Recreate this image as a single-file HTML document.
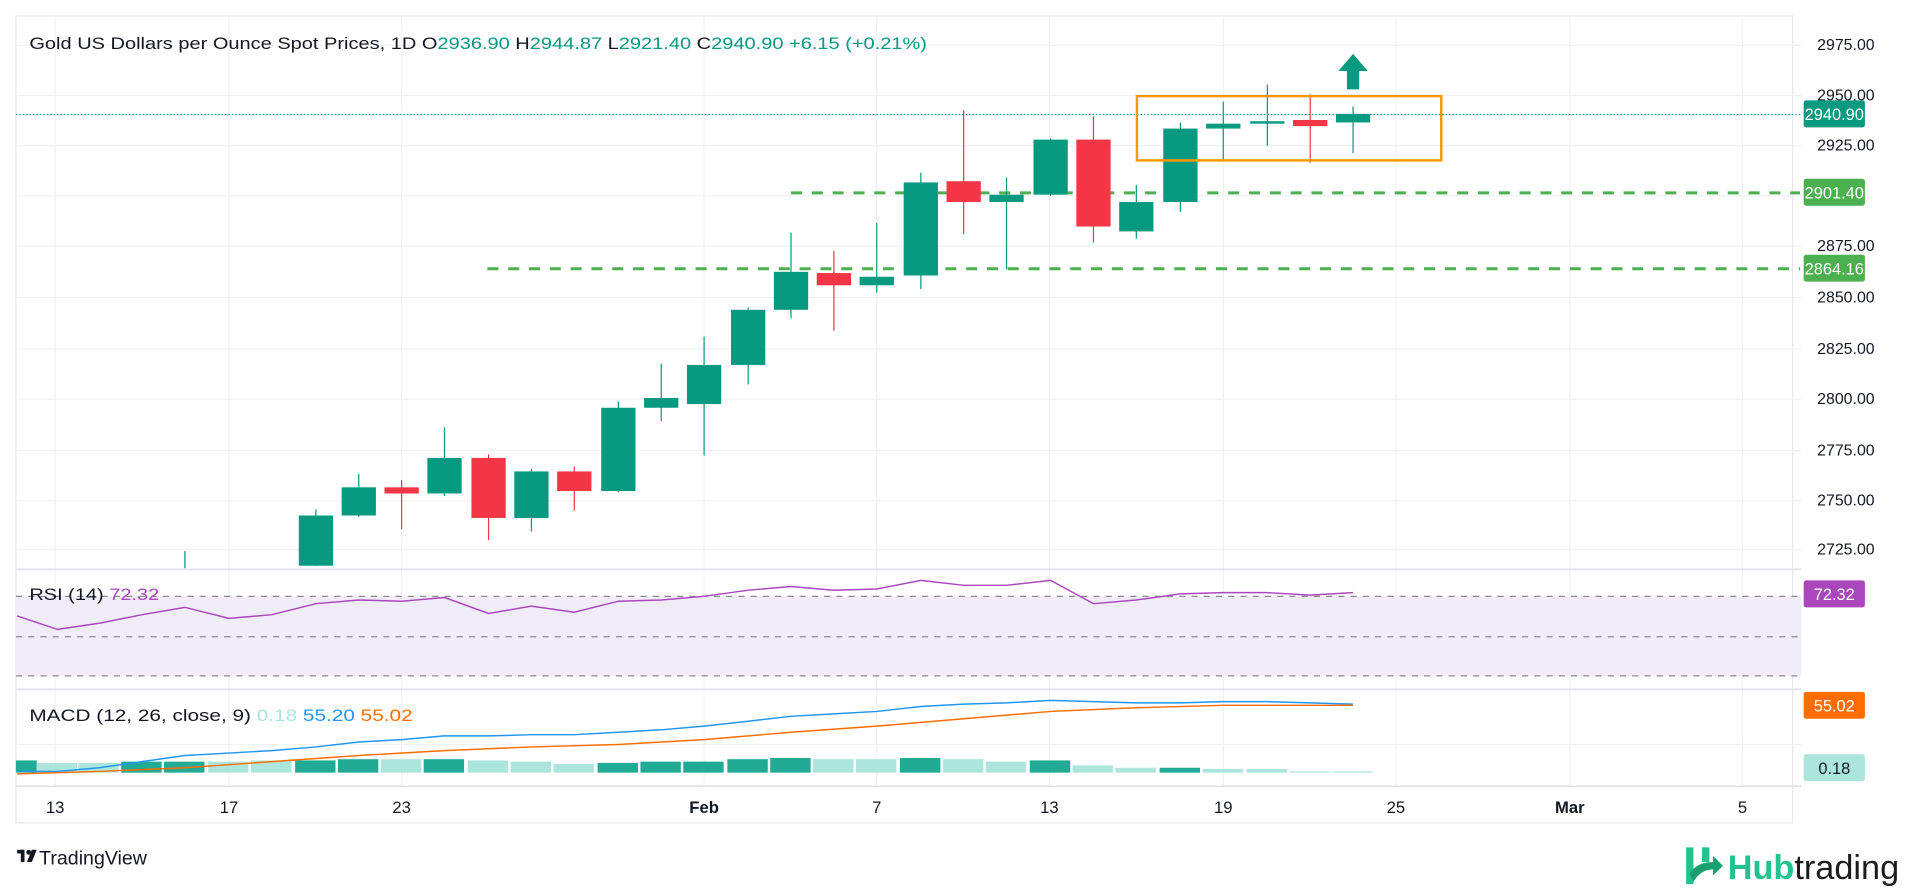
<!DOCTYPE html>
<html><head><meta charset="utf-8"><style>
html,body{margin:0;padding:0;background:#fff;width:1920px;height:888px;overflow:hidden}
svg{display:block}
text{font-family:"Liberation Sans",sans-serif}
</style></head><body>
<svg id="s" width="1920" height="888" viewBox="0 0 1568 725.2" xmlns="http://www.w3.org/2000/svg" xml:space="preserve">
<rect x="0" y="0" width="1568" height="725.2" fill="#fff"/>
<rect x="13" y="13" width="1451" height="659" fill="none" stroke="#e6e7eb" stroke-width="1"/>
<g id="grid" stroke="#f0f1f4" stroke-width="1"></g>
<rect x="13" y="487" width="1458" height="65" fill="#f0ecf8"/>
<g stroke="#8a8a8e" stroke-width="1" stroke-dasharray="5,5">
<line x1="13" y1="487" x2="1471" y2="487"/><line x1="13" y1="520" x2="1471" y2="520"/><line x1="13" y1="552" x2="1471" y2="552"/>
</g>
<g stroke="#e0e2e7" stroke-width="1.5">
<line x1="13" y1="465" x2="1471" y2="465"/><line x1="13" y1="563" x2="1471" y2="563"/><line x1="13" y1="642" x2="1471" y2="642"/>
</g>
<line x1="13" y1="93.5" x2="1471" y2="93.5" stroke="#089981" stroke-width="1" stroke-dasharray="1.2,1.6"/>
<g stroke="#4caf50" stroke-width="2.5" stroke-dasharray="9,8">
<line x1="646" y1="157.5" x2="1470" y2="157.5"/><line x1="398" y1="219.5" x2="1470" y2="219.5"/>
</g>
<g id="cd"></g>
<rect x="928.5" y="78.5" width="248.5" height="52.5" fill="none" stroke="#ff9800" stroke-width="2"/>
<polygon points="1105,44 1117,58 1110,58 1110,73 1100,73 1100,58 1093,58" fill="#089981"/>
<g id="hist"></g>
<polyline fill="none" stroke="#ab47bc" stroke-width="1.2" points="14,503 47,514 81,509 116,502 151,496 187,505 222,502 258,493 293,490 328,491 363,488 399,501 434,495 469,500 505,491 540,490 575,487 611,482 646,479 681,482 716,481 752,474 787,478 822,478 858,474 893,493 928,490 964,485 999,484 1035,484 1070,486 1105,484"/>
<polyline fill="none" stroke="#2196f3" stroke-width="1.2" points="14,630 47,630 81,627 116,622 151,617 187,615 222,613 258,610 293,606 328,604 363,601 399,601 434,600 469,600 505,598 540,596 575,593 611,589 646,585 681,583 716,581 752,577 787,575 822,574 858,572 893,573 928,574 964,574 999,573 1035,573 1070,574 1105,575"/>
<polyline fill="none" stroke="#ff6d00" stroke-width="1.2" points="14,632 81,630 151,627 222,622 293,617 363,613 434,610 505,608 575,604 646,598 716,593 787,587 858,581 928,578 999,576 1105,576"/>
<text x="24" y="40" font-size="13.6" fill="#131722" textLength="733" lengthAdjust="spacingAndGlyphs">Gold US Dollars per Ounce Spot Prices, 1D  O<tspan fill="#089981">2936.90</tspan>  H<tspan fill="#089981">2944.87</tspan>  L<tspan fill="#089981">2921.40</tspan>  C<tspan fill="#089981">2940.90</tspan>  <tspan fill="#089981">+6.15 (+0.21%)</tspan></text>
<text x="24" y="490" font-size="13.6" fill="#131722" textLength="106" lengthAdjust="spacingAndGlyphs">RSI (14)  <tspan fill="#ab47bc">72.32</tspan></text>
<text x="24" y="589" font-size="13.6" fill="#131722" textLength="313" lengthAdjust="spacingAndGlyphs">MACD (12, 26, close, 9)  <tspan fill="#ace5dc">0.18</tspan>  <tspan fill="#2196f3">55.20</tspan>  <tspan fill="#ff6d00">55.02</tspan></text>
<g id="px" font-size="13" fill="#131722"></g>
<rect x="1473" y="82" width="50" height="22" rx="2" fill="#089981"/><text x="1498" y="98" font-size="13.4" fill="#fff" text-anchor="middle">2940.90</text>
<rect x="1473" y="146" width="50" height="22" rx="2" fill="#4caf50"/><text x="1498" y="162" font-size="13.4" fill="#fff" text-anchor="middle">2901.40</text>
<rect x="1473" y="208" width="50" height="22" rx="2" fill="#4caf50"/><text x="1498" y="224" font-size="13.4" fill="#fff" text-anchor="middle">2864.16</text>
<rect x="1473" y="474" width="50" height="22" rx="2" fill="#ab47bc"/><text x="1498" y="490" font-size="13.4" fill="#fff" text-anchor="middle">72.32</text>
<rect x="1473" y="565" width="50" height="22" rx="2" fill="#ff6d00"/><text x="1498" y="581" font-size="13.4" fill="#fff" text-anchor="middle">55.02</text>
<rect x="1473" y="616" width="50" height="22" rx="2" fill="#ace5dc"/><text x="1498" y="632" font-size="13.4" fill="#131722" text-anchor="middle">0.18</text>
<g id="dt" font-size="13.6" fill="#131722" text-anchor="middle"></g>
<g transform="translate(14,692)"><rect x="0" y="2" width="6" height="3" fill="#131722"/><rect x="3" y="2" width="3" height="10" fill="#131722"/><circle cx="9.5" cy="4" r="2" fill="#131722"/><polygon points="12,2 16,2 12,12 8,12" fill="#131722"/></g>
<text x="32" y="706" font-size="16" fill="#131722">TradingView</text>
<g transform="translate(1377,692)"><rect x="0" y="0" width="6" height="30" fill="#22c38e"/><rect x="13" y="0" width="6" height="12" fill="#22c38e"/><path d="M3 22 Q8 12 22 12 L22 7 L30 15 L22 23 L22 18 Q12 18 6 28 Z" fill="#1aa06f"/></g>
<text x="1411" y="718" font-size="28" font-weight="bold" fill="#22c38e">Hub<tspan fill="#1c1c1c" font-weight="normal">trading</tspan></text>
</svg>
<script>
const NS="http://www.w3.org/2000/svg";
function el(p,t,a){const e=document.createElementNS(NS,t);for(const k in a)e.setAttribute(k,a[k]);p.appendChild(e);return e;}
const g=document.getElementById('grid');
[37,78,119,160,201,243,285,326,368,409,449].forEach(y=>el(g,'line',{x1:13,x2:1471,y1:y,y2:y}));
[527,608].forEach(y=>el(g,'line',{x1:13,x2:1471,y1:y,y2:y}));
const xs=[45,187,328,575,716,857,999,1140,1282,1423];
xs.forEach(x=>el(g,'line',{x1:x,x2:x,y1:13,y2:642}));
const labs=["13","17","23","Feb","7","13","19","25","Mar","5"];
const dt=document.getElementById('dt');
xs.forEach((x,i)=>{const t=el(dt,'text',{x:x,y:664});if(labs[i]=="Feb"||labs[i]=="Mar")t.setAttribute('font-weight','bold');t.textContent=labs[i];});
const px=document.getElementById('px');
[[37,"2975.00"],[78,"2950.00"],[119,"2925.00"],[201,"2875.00"],[243,"2850.00"],[285,"2825.00"],[326,"2800.00"],[368,"2775.00"],[409,"2750.00"],[449,"2725.00"]].forEach(([y,s])=>{const t=el(px,'text',{x:1484,y:y+4});t.textContent=s;});
const G="#089981",R="#f23645";
const c=[[258,421,462,416,462,G],[293,398,421,387,422,G],[328,398,403,392,432,R],[363,374,403,349,405,G],[399,374,423,371,441,R],[434,385,423,383,434,G],[469,385,401,381,417,R],[505,333,401,328,402,G],[540,325,333,297,344,G],[575,298,330,275,372,G],[611,253,298,251,314,G],[646,222,253,190,260,G],[681,223,233,205,270,R],[716,226,233,182,239,G],[752,149,225,141,236,G],[787,148,165,90,191,R],[822,159,165,145,220,G],[858,114,159,113,160,G],[893,114,185,95,198,R],[928,165,189,151,195,G],[964,105,165,100,173,G],[999,101,105,83,130,G],[1035,99,101,69,119,G],[1070,98,103,77,133,R],[1105,93,100,87,125,G]];
const cd=document.getElementById('cd');
el(cd,'line',{x1:151,x2:151,y1:450,y2:464,stroke:G,'stroke-width':1});
c.forEach(([x,t,b,h,l,col])=>{el(cd,'line',{x1:x,x2:x,y1:h,y2:Math.min(l,464),stroke:col,'stroke-width':1});el(cd,'rect',{x:x-14,y:t,width:28,height:Math.max(2,Math.min(b,464)-t),fill:col});});
const D="#22ab94",L="#ace5dc";
const hb=[[14,621,D],[47,623,L],[81,623,L],[116,622,D],[151,622,D],[187,622,L],[222,621,L],[258,621,D],[293,620,D],[328,620,L],[363,620,D],[399,621,L],[434,622,L],[469,624,L],[505,623,D],[540,622,D],[575,622,D],[611,620,D],[646,619,D],[681,620,L],[716,620,L],[752,619,D],[787,620,L],[822,622,L],[858,621,D],[893,625,L],[928,627,L],[964,627,D],[999,628,L],[1035,628,L],[1070,630,L],[1105,630,L]];
const hg=document.getElementById('hist');
hb.forEach(([x,y,col])=>{const x0=Math.max(13,x-17);el(hg,'rect',{x:x0,y:y,width:x+17-x0-1,height:631-y,fill:col});});
</script>
</body></html>
